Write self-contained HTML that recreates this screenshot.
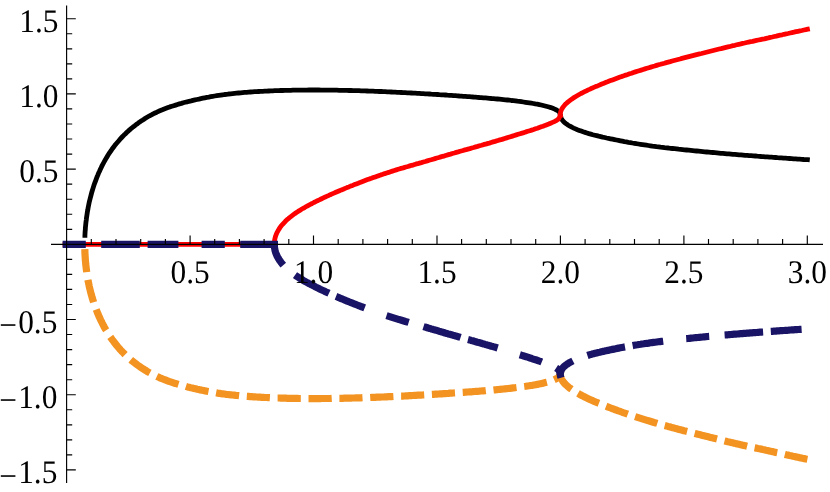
<!DOCTYPE html>
<html><head><meta charset="utf-8"><title>plot</title>
<style>
html,body{margin:0;padding:0;background:#fff;}
svg{display:block;will-change:transform;}
text{font-family:"Liberation Serif",serif;font-size:33px;fill:#000;text-rendering:geometricPrecision;}
</style></head><body>
<svg width="830" height="492" viewBox="0 0 830 492">
<rect width="830" height="492" fill="#fff"/>
<path d="M84.9 237.8 L84.9 235.8 L85.0 233.8 L85.1 231.8 L85.3 229.8 L85.4 227.8 L85.6 225.8 L85.8 223.8 L86.0 221.8 L86.3 219.8 L86.5 217.8 L86.8 215.8 L87.1 213.8 L87.4 211.8 L87.8 209.8 L88.1 207.9 L88.5 205.9 L88.9 203.9 L89.3 201.9 L89.8 200.0 L90.3 198.0 L90.8 196.1 L91.3 194.1 L91.8 192.2 L92.4 190.3 L93.0 188.4 L93.6 186.4 L94.2 184.5 L94.9 182.6 L95.6 180.8 L96.3 178.9 L97.0 177.0 L97.8 175.1 L98.5 173.3 L99.4 171.5 L100.2 169.6 L101.1 167.8 L101.9 166.0 L102.9 164.2 L103.8 162.5 L104.8 160.7 L105.8 158.9 L106.8 157.2 L107.8 155.5 L108.9 153.8 L110.0 152.1 L111.2 150.5 L112.3 148.8 L113.5 147.2 L114.7 145.6 L116.0 144.0 L117.3 142.5 L118.6 141.0 L119.9 139.4 L121.2 138.0 L122.6 136.5 L124.0 135.1 L125.5 133.7 L126.9 132.3 L128.4 130.9 L129.9 129.6 L131.4 128.3 L133.0 127.0 L134.6 125.8 L136.2 124.5 L137.8 123.4 L139.4 122.2 L141.1 121.1 L142.8 120.0 L144.4 118.9 L146.2 117.8 L147.9 116.8 L149.6 115.8 L151.4 114.9 L153.2 113.9 L155.0 113.0 L156.8 112.2 L158.6 111.3 L160.5 110.5 L162.3 109.8 L164.2 109.0 L166.1 108.3 L168.0 107.6 L169.8 106.9 L171.8 106.3 L173.7 105.7 L175.6 105.1 L177.5 104.5 L179.4 103.9 L181.4 103.4 L183.3 102.8 L185.2 102.3 L187.2 101.8 L189.1 101.3 L191.1 100.9 L193.0 100.4 L195.0 99.9 L197.0 99.5 L198.9 99.1 L200.9 98.6 L202.9 98.2 L204.8 97.8 L206.8 97.4 L208.8 97.1 L210.7 96.7 L212.7 96.3 L214.7 96.0 L216.7 95.7 L218.7 95.4 L220.7 95.1 L222.6 94.8 L224.6 94.5 L226.6 94.3 L228.6 94.0 L230.6 93.8 L232.6 93.6 L234.6 93.4 L236.6 93.2 L238.6 93.0 L240.6 92.8 L242.6 92.6 L244.6 92.4 L246.6 92.3 L248.6 92.1 L250.6 92.0 L252.6 91.9 L254.6 91.7 L256.6 91.6 L258.7 91.5 L260.7 91.4 L262.7 91.3 L264.7 91.2 L266.7 91.1 L268.7 91.0 L270.7 90.9 L272.7 90.8 L274.7 90.7 L276.7 90.6 L278.7 90.6 L280.7 90.5 L282.7 90.5 L284.7 90.4 L286.8 90.4 L288.8 90.3 L290.8 90.3 L292.8 90.2 L294.8 90.2 L296.8 90.2 L298.8 90.1 L300.8 90.1 L302.8 90.1 L304.8 90.1 L306.8 90.1 L308.9 90.0 L310.9 90.0 L312.9 90.0 L314.9 90.0 L316.9 90.0 L318.9 90.0 L320.9 90.1 L322.9 90.1 L324.9 90.1 L326.9 90.1 L329.0 90.1 L331.0 90.1 L333.0 90.2 L335.0 90.2 L337.0 90.2 L339.0 90.3 L341.0 90.3 L343.0 90.3 L345.0 90.4 L347.0 90.4 L349.0 90.5 L351.0 90.5 L353.1 90.6 L355.1 90.6 L357.1 90.7 L359.1 90.7 L361.1 90.8 L363.1 90.9 L365.1 90.9 L367.1 91.0 L369.1 91.1 L371.1 91.1 L373.1 91.2 L375.1 91.3 L377.2 91.4 L379.2 91.5 L381.2 91.5 L383.2 91.6 L385.2 91.7 L387.2 91.8 L389.2 91.9 L391.2 92.0 L393.2 92.1 L395.2 92.2 L397.2 92.3 L399.2 92.4 L401.2 92.5 L403.2 92.6 L405.3 92.7 L407.3 92.8 L409.3 92.9 L411.3 93.0 L413.3 93.1 L415.3 93.2 L417.3 93.3 L419.3 93.4 L421.3 93.6 L423.3 93.7 L425.3 93.8 L427.3 93.9 L429.3 94.0 L431.3 94.2 L433.3 94.3 L435.3 94.4 L437.3 94.5 L439.4 94.7 L441.4 94.8 L443.4 94.9 L445.4 95.0 L447.4 95.2 L449.4 95.3 L451.4 95.4 L453.4 95.6 L455.4 95.7 L457.4 95.8 L459.4 96.0 L461.4 96.1 L463.4 96.3 L465.4 96.4 L467.4 96.6 L469.4 96.7 L471.4 96.8 L473.4 97.0 L475.4 97.1 L477.4 97.3 L479.4 97.5 L481.4 97.6 L483.4 97.8 L485.5 97.9 L487.5 98.1 L489.5 98.3 L491.5 98.5 L493.5 98.6 L495.5 98.8 L497.5 99.0 L499.5 99.2 L501.5 99.4 L503.5 99.6 L505.5 99.8 L507.5 100.0 L509.5 100.2 L511.4 100.5 L513.4 100.7 L515.4 100.9 L517.4 101.2 L519.4 101.4 L521.4 101.7 L523.4 102.0 L525.4 102.3 L527.4 102.6 L529.4 102.9 L531.4 103.2 L533.3 103.5 L535.3 103.9 L537.3 104.2 L539.3 104.6 L541.2 105.0 L543.2 105.5 L545.1 106.0 L547.1 106.5 L549.0 107.0 L550.9 107.6 L552.8 108.3 L554.7 109.1 L556.5 110.0 L558.2 111.0 L559.6 112.4 L560.3 114.3" fill="none" stroke="#000" stroke-width="4.8" stroke-linejoin="round"/>
<path d="M560.3 114.3 L560.5 116.3 L561.2 118.2 L562.2 119.9 L563.5 121.5 L565.0 122.9 L566.6 124.1 L568.3 125.2 L570.0 126.2 L571.8 127.2 L573.7 128.1 L575.5 128.9 L577.4 129.7 L579.3 130.4 L581.2 131.1 L583.1 131.8 L585.0 132.4 L586.9 133.0 L588.9 133.6 L590.8 134.1 L592.8 134.7 L594.7 135.2 L596.7 135.7 L598.7 136.2 L600.6 136.6 L602.6 137.1 L604.6 137.5 L606.6 138.0 L608.5 138.4 L610.5 138.8 L612.5 139.2 L614.5 139.6 L616.5 140.0 L618.5 140.4 L620.5 140.8 L622.4 141.2 L624.4 141.6 L626.4 141.9 L628.4 142.3 L630.4 142.6 L632.4 143.0 L634.4 143.3 L636.4 143.7 L638.4 144.0 L640.4 144.3 L642.4 144.6 L644.4 144.9 L646.4 145.2 L648.4 145.5 L650.4 145.8 L652.4 146.1 L654.4 146.3 L656.5 146.6 L658.5 146.8 L660.5 147.1 L662.5 147.3 L664.5 147.6 L666.5 147.8 L668.5 148.0 L670.5 148.3 L672.5 148.5 L674.6 148.7 L676.6 148.9 L678.6 149.2 L680.6 149.4 L682.6 149.6 L684.6 149.8 L686.6 150.0 L688.7 150.2 L690.7 150.4 L692.7 150.6 L694.7 150.8 L696.7 151.0 L698.7 151.2 L700.7 151.4 L702.8 151.6 L704.8 151.8 L706.8 152.0 L708.8 152.2 L710.8 152.4 L712.8 152.5 L714.9 152.7 L716.9 152.9 L718.9 153.1 L720.9 153.3 L722.9 153.4 L725.0 153.6 L727.0 153.8 L729.0 153.9 L731.0 154.1 L733.0 154.3 L735.0 154.4 L737.1 154.6 L739.1 154.8 L741.1 154.9 L743.1 155.1 L745.1 155.3 L747.2 155.4 L749.2 155.6 L751.2 155.7 L753.2 155.9 L755.2 156.0 L757.3 156.2 L759.3 156.3 L761.3 156.5 L763.3 156.6 L765.3 156.8 L767.4 156.9 L769.4 157.1 L771.4 157.2 L773.4 157.4 L775.4 157.5 L777.5 157.7 L779.5 157.8 L781.5 157.9 L783.5 158.1 L785.5 158.2 L787.6 158.4 L789.6 158.5 L791.6 158.6 L793.6 158.8 L795.7 158.9 L797.7 159.1 L799.7 159.2 L801.7 159.3 L803.7 159.5 L805.8 159.6 L807.8 159.7 L809.8 159.9" fill="none" stroke="#000" stroke-width="4.8" stroke-linejoin="round"/>
<path d="M62.65 244.3 L274.3 244.3" fill="none" stroke="#ff0000" stroke-width="4.8"/>
<path d="M274.3 244.3 L274.4 242.3 L274.6 240.3 L275.0 238.3 L275.5 236.4 L276.2 234.5 L277.0 232.6 L278.0 230.8 L279.0 229.1 L280.1 227.4 L281.3 225.8 L282.6 224.3 L284.0 222.8 L285.4 221.3 L286.8 219.9 L288.4 218.6 L289.9 217.3 L291.5 216.1 L293.1 214.9 L294.7 213.7 L296.4 212.5 L298.1 211.4 L299.8 210.4 L301.5 209.3 L303.2 208.3 L305.0 207.3 L306.7 206.3 L308.5 205.3 L310.3 204.4 L312.1 203.5 L313.9 202.5 L315.7 201.6 L317.5 200.7 L319.3 199.9 L321.1 199.0 L322.9 198.1 L324.8 197.2 L326.6 196.4 L328.4 195.6 L330.3 194.7 L332.1 193.9 L334.0 193.1 L335.8 192.3 L337.7 191.5 L339.5 190.7 L341.4 189.9 L343.2 189.2 L345.1 188.4 L347.0 187.6 L348.8 186.9 L350.7 186.1 L352.6 185.4 L354.4 184.6 L356.3 183.9 L358.2 183.2 L360.1 182.4 L362.0 181.7 L363.9 181.0 L365.7 180.3 L367.6 179.6 L369.5 178.9 L371.4 178.3 L373.3 177.6 L375.2 176.9 L377.1 176.2 L379.0 175.6 L380.9 174.9 L382.9 174.3 L384.8 173.6 L386.7 173.0 L388.6 172.4 L390.5 171.7 L392.4 171.1 L394.4 170.5 L396.3 169.9 L398.2 169.3 L400.1 168.7 L402.1 168.2 L404.0 167.6 L405.9 167.0 L407.9 166.5 L409.8 165.9 L411.7 165.3 L413.7 164.8 L415.6 164.2 L417.6 163.7 L419.5 163.1 L421.4 162.6 L423.4 162.0 L425.3 161.5 L427.3 160.9 L429.2 160.3 L431.1 159.8 L433.1 159.2 L435.0 158.6 L436.9 158.0 L438.9 157.5 L440.8 156.9 L442.7 156.3 L444.7 155.8 L446.6 155.2 L448.5 154.6 L450.5 154.1 L452.4 153.5 L454.3 153.0 L456.3 152.4 L458.2 151.9 L460.2 151.3 L462.1 150.8 L464.0 150.2 L466.0 149.7 L467.9 149.1 L469.9 148.6 L471.8 148.0 L473.7 147.5 L475.7 146.9 L477.6 146.4 L479.6 145.8 L481.5 145.3 L483.4 144.7 L485.4 144.2 L487.3 143.6 L489.3 143.1 L491.2 142.5 L493.1 141.9 L495.1 141.4 L497.0 140.8 L498.9 140.2 L500.9 139.7 L502.8 139.1 L504.7 138.5 L506.7 137.9 L508.6 137.3 L510.5 136.7 L512.4 136.1 L514.4 135.5 L516.3 134.9 L518.2 134.3 L520.1 133.7 L522.1 133.1 L524.0 132.6 L525.9 131.9 L527.8 131.3 L529.8 130.7 L531.7 130.1 L533.6 129.5 L535.5 128.8 L537.4 128.2 L539.3 127.5 L541.2 126.8 L543.1 126.2 L545.0 125.4 L546.9 124.7 L548.7 124.0 L550.6 123.2 L552.5 122.4 L554.3 121.6 L556.1 120.7 L557.8 119.6 L559.1 118.1 L559.9 116.3 L560.3 114.3" fill="none" stroke="#ff0000" stroke-width="4.8" stroke-linejoin="round"/>
<path d="M561.0 117.9 L560.4 116.0 L560.3 114.1 L560.6 112.1 L561.2 110.2 L562.2 108.4 L563.3 106.7 L564.6 105.2 L566.0 103.7 L567.5 102.4 L569.1 101.1 L570.7 99.9 L572.4 98.7 L574.0 97.6 L575.8 96.5 L577.5 95.5 L579.2 94.5 L581.0 93.5 L582.8 92.6 L584.6 91.7 L586.4 90.8 L588.2 89.9 L590.1 89.1 L591.9 88.2 L593.8 87.4 L595.6 86.6 L597.5 85.9 L599.4 85.1 L601.2 84.3 L603.1 83.6 L605.0 82.8 L606.8 82.1 L608.7 81.3 L610.6 80.6 L612.5 79.9 L614.4 79.2 L616.3 78.5 L618.2 77.8 L620.1 77.1 L622.0 76.4 L623.9 75.8 L625.8 75.1 L627.7 74.5 L629.6 73.8 L631.6 73.2 L633.5 72.5 L635.4 71.9 L637.3 71.3 L639.2 70.7 L641.2 70.1 L643.1 69.5 L645.0 68.9 L646.9 68.3 L648.9 67.7 L650.8 67.1 L652.8 66.5 L654.7 66.0 L656.6 65.4 L658.6 64.8 L660.5 64.3 L662.5 63.7 L664.4 63.2 L666.3 62.6 L668.3 62.1 L670.2 61.6 L672.2 61.0 L674.1 60.5 L676.1 60.0 L678.0 59.5 L680.0 59.0 L681.9 58.4 L683.9 57.9 L685.8 57.4 L687.8 56.9 L689.8 56.4 L691.7 55.9 L693.7 55.4 L695.6 54.9 L697.6 54.4 L699.6 53.9 L701.5 53.5 L703.5 53.0 L705.4 52.5 L707.4 52.0 L709.3 51.5 L711.3 51.0 L713.3 50.5 L715.2 50.0 L717.2 49.5 L719.1 49.0 L721.1 48.6 L723.1 48.1 L725.0 47.6 L727.0 47.1 L729.0 46.7 L730.9 46.2 L732.9 45.7 L734.9 45.3 L736.8 44.8 L738.8 44.3 L740.8 43.9 L742.7 43.4 L744.7 43.0 L746.7 42.5 L748.6 42.1 L750.6 41.7 L752.6 41.3 L754.6 40.8 L756.5 40.4 L758.5 40.0 L760.5 39.6 L762.5 39.2 L764.4 38.8 L766.4 38.3 L768.4 37.9 L770.4 37.4 L772.3 37.0 L774.3 36.5 L776.3 36.1 L778.2 35.6 L780.2 35.2 L782.2 34.8 L784.1 34.3 L786.1 33.9 L788.1 33.5 L790.1 33.0 L792.0 32.6 L794.0 32.2 L796.0 31.7 L798.0 31.3 L799.9 30.9 L801.9 30.5 L803.9 30.0 L805.9 29.6 L807.8 29.2 L809.8 28.8" fill="none" stroke="#ff0000" stroke-width="4.8" stroke-linejoin="round"/>
<path d="M84.8 249.1 L84.9 250.7 L84.9 252.4 L85.0 254.0 L85.1 255.7 L85.2 257.3 L85.3 259.0 L85.4 260.6 L85.6 262.3 L85.7 263.9 L85.9 265.6 L86.1 267.2 L86.3 268.9 L86.5 270.5 L86.7 272.1 M87.9 279.8 L88.2 281.4 L88.6 283.0 L88.9 284.6 L89.2 286.2 L89.6 287.9 L90.0 289.5 L90.4 291.1 L90.8 292.7 L91.2 294.3 L91.7 295.9 L92.1 297.5 L92.6 299.0 L93.1 300.6 L93.6 302.2 M96.2 309.5 L96.8 311.0 L97.4 312.6 L98.0 314.1 L98.7 315.6 L99.3 317.1 L100.0 318.6 L100.7 320.1 L101.5 321.6 L102.2 323.1 L103.0 324.6 L103.7 326.0 L104.5 327.5 L105.3 328.9 L106.2 330.3 M110.3 336.9 L111.2 338.2 L112.2 339.6 L113.2 340.9 L114.2 342.2 L115.2 343.5 L116.2 344.8 L117.3 346.1 L118.3 347.4 L119.4 348.6 L120.5 349.9 L121.6 351.1 L122.8 352.3 L123.9 353.4 L125.1 354.6 M130.8 359.8 L132.1 360.9 L133.4 361.9 L134.7 362.9 L136.0 363.9 L137.3 364.9 L138.7 365.9 L140.0 366.8 L141.4 367.8 L142.8 368.7 L144.2 369.5 L145.6 370.4 L147.0 371.3 L148.4 372.1 L149.9 372.9 M156.8 376.4 L158.3 377.1 L159.8 377.8 L161.3 378.4 L162.8 379.0 L164.4 379.6 L165.9 380.2 L167.5 380.8 L169.0 381.4 L170.6 381.9 L172.1 382.4 L173.7 383.0 L175.3 383.4 L176.9 383.9 L178.5 384.4 M185.9 386.4 L187.5 386.9 L189.1 387.3 L190.7 387.7 L192.3 388.0 L193.9 388.4 L195.6 388.8 L197.2 389.2 L198.8 389.5 L200.4 389.9 L202.0 390.2 L203.6 390.5 L205.3 390.9 L206.9 391.2 L208.5 391.5 M216.1 392.8 L217.7 393.1 L219.4 393.3 L221.0 393.6 L222.7 393.8 L224.3 394.0 L225.9 394.3 L227.6 394.5 L229.2 394.7 L230.9 394.8 L232.5 395.0 L234.2 395.2 L235.8 395.4 L237.4 395.5 L239.1 395.7 M246.8 396.3 L248.4 396.4 L250.1 396.6 L251.7 396.7 L253.4 396.8 L255.0 396.9 L256.7 397.0 L258.3 397.1 L260.0 397.2 L261.6 397.3 L263.3 397.4 L264.9 397.5 L266.6 397.5 L268.3 397.6 L269.9 397.7 M277.6 398.0 L279.3 398.0 L280.9 398.1 L282.6 398.1 L284.2 398.2 L285.9 398.2 L287.5 398.3 L289.2 398.3 L290.8 398.3 L292.5 398.4 L294.2 398.4 L295.8 398.4 L297.5 398.4 L299.1 398.5 L300.8 398.5 M308.5 398.6 L310.1 398.6 L311.8 398.6 L313.5 398.6 L315.1 398.6 L316.8 398.6 L318.4 398.6 L320.1 398.6 L321.7 398.5 L323.4 398.5 L325.0 398.5 L326.7 398.5 L328.3 398.5 L330.0 398.5 L331.7 398.4 M339.4 398.3 L341.0 398.3 L342.7 398.3 L344.3 398.2 L346.0 398.2 L347.6 398.2 L349.3 398.1 L350.9 398.1 L352.6 398.0 L354.3 398.0 L355.9 397.9 L357.6 397.9 L359.2 397.8 L360.9 397.8 L362.5 397.7 M370.2 397.5 L371.9 397.4 L373.5 397.4 L375.2 397.3 L376.8 397.2 L378.5 397.2 L380.2 397.1 L381.8 397.0 L383.5 397.0 L385.1 396.9 L386.8 396.8 L388.4 396.7 L390.1 396.7 L391.7 396.6 L393.4 396.5 M401.1 396.1 L402.7 396.1 L404.4 396.0 L406.0 395.9 L407.7 395.8 L409.3 395.7 L411.0 395.6 L412.7 395.5 L414.3 395.4 L416.0 395.3 L417.6 395.2 L419.3 395.2 L420.9 395.1 L422.6 395.0 L424.2 394.9 M431.9 394.4 L433.6 394.3 L435.2 394.2 L436.9 394.1 L438.5 394.0 L440.2 393.9 L441.8 393.8 L443.5 393.7 L445.1 393.6 L446.8 393.5 L448.4 393.4 L450.1 393.2 L451.7 393.1 L453.4 393.0 L455.0 392.9 M462.7 392.4 L464.4 392.3 L466.0 392.1 L467.7 392.0 L469.3 391.9 L471.0 391.8 L472.6 391.7 L474.3 391.5 L475.9 391.4 L477.6 391.3 L479.2 391.2 L480.9 391.0 L482.5 390.9 L484.2 390.8 L485.8 390.6 M493.5 390.0 L495.2 389.8 L496.8 389.7 L498.5 389.5 L500.1 389.3 L501.8 389.2 L503.4 389.0 L505.0 388.8 L506.7 388.7 L508.3 388.5 L510.0 388.3 L511.6 388.1 L513.3 387.9 L514.9 387.7 L516.5 387.5 M524.2 386.5 L525.8 386.3 L527.5 386.0 L529.1 385.8 L530.7 385.5 L532.4 385.3 L534.0 385.0 L535.6 384.7 L537.3 384.4 L538.9 384.0 L540.5 383.7 L542.1 383.4 L543.7 383.0 L545.3 382.6 L546.9 382.2 M554.2 379.7 L556.2 378.8 L558.0 377.7 L559.5 376.3 L560.3 374.3" fill="none" stroke="#f39322" stroke-width="7.2" stroke-linejoin="round"/>
<path d="M561.0 370.7 L560.5 372.3 L560.3 373.9 L560.4 375.5 L560.7 377.1 L561.3 378.6 L562.1 380.1 L563.0 381.5 L564.0 382.8 L565.1 384.0 L566.3 385.1 L567.5 386.2 L568.8 387.3 L570.1 388.3 L571.5 389.3 M578.0 393.4 L579.4 394.2 L580.9 395.0 L582.3 395.8 L583.8 396.5 L585.3 397.3 L586.8 398.0 L588.3 398.7 L589.8 399.4 L591.3 400.1 L592.8 400.7 L594.3 401.4 L595.8 402.1 L597.4 402.7 L598.9 403.3 M606.1 406.2 L607.6 406.8 L609.1 407.4 L610.7 408.0 L612.2 408.6 L613.8 409.2 L615.3 409.8 L616.9 410.3 L618.4 410.9 L620.0 411.4 L621.6 412.0 L623.1 412.6 L624.7 413.1 L626.2 413.6 L627.8 414.2 M635.1 416.6 L636.7 417.1 L638.3 417.6 L639.9 418.1 L641.4 418.6 L643.0 419.1 L644.6 419.6 L646.2 420.1 L647.8 420.6 L649.3 421.0 L650.9 421.5 L652.5 422.0 L654.1 422.5 L655.7 422.9 L657.3 423.4 M664.7 425.5 L666.3 425.9 L667.9 426.4 L669.5 426.8 L671.1 427.3 L672.7 427.7 L674.3 428.1 L675.9 428.6 L677.5 429.0 L679.1 429.4 L680.7 429.8 L682.3 430.2 L683.9 430.7 L685.5 431.1 L687.1 431.5 M694.6 433.4 L696.2 433.8 L697.8 434.2 L699.4 434.6 L701.0 435.0 L702.6 435.4 L704.2 435.8 L705.8 436.2 L707.4 436.6 L709.0 437.0 L710.6 437.4 L712.2 437.8 L713.8 438.2 L715.4 438.6 L717.0 439.0 M724.5 440.9 L726.1 441.3 L727.7 441.7 L729.3 442.0 L731.0 442.4 L732.6 442.8 L734.2 443.2 L735.8 443.6 L737.4 443.9 L739.0 444.3 L740.6 444.7 L742.2 445.1 L743.8 445.4 L745.5 445.8 L747.1 446.2 M754.6 447.8 L756.2 448.1 L757.9 448.5 L759.5 448.8 L761.1 449.1 L762.7 449.5 L764.3 449.8 L765.9 450.2 L767.6 450.5 L769.2 450.9 L770.8 451.3 L772.4 451.6 L774.0 452.0 L775.6 452.4 L777.2 452.7 M784.8 454.4 L786.4 454.8 L788.0 455.1 L789.6 455.5 L791.2 455.8 L792.9 456.2 L794.5 456.5 L796.1 456.9 L797.7 457.2 L799.3 457.6 L800.9 457.9 L802.6 458.3 L804.2 458.6 L805.8 459.0 L807.4 459.3" fill="none" stroke="#f39322" stroke-width="7.2" stroke-linejoin="round"/>
<path d="M62.6 244.3 L64.3 244.3 L66.0 244.3 L67.6 244.3 L69.3 244.3 L70.9 244.3 L72.6 244.3 L74.2 244.3 L75.9 244.3 L77.5 244.3 L79.2 244.3 L80.8 244.3 L82.5 244.3 L84.2 244.3 L85.8 244.3 M101.2 244.3 L102.9 244.3 L104.5 244.3 L106.1 244.3 L107.7 244.3 L109.3 244.3 L110.9 244.3 L112.5 244.3 L114.1 244.3 L115.7 244.3 L117.3 244.3 L118.9 244.3 L120.5 244.3 L122.2 244.3 L123.8 244.3 L125.4 244.3 L127.0 244.3 L128.6 244.3 L130.2 244.3 L131.8 244.3 L133.4 244.3 L135.0 244.3 L136.6 244.3 L138.2 244.3 L139.8 244.3 M147.6 244.3 L149.2 244.3 L150.8 244.3 L152.4 244.3 L154.1 244.3 L155.7 244.3 L157.3 244.3 L158.9 244.3 L160.6 244.3 L162.2 244.3 L163.8 244.3 L165.4 244.3 L167.1 244.3 L168.7 244.3 L170.3 244.3 L171.9 244.3 L173.6 244.3 L175.2 244.3 L176.8 244.3 L178.4 244.3 M201.6 244.3 L203.3 244.3 L204.9 244.3 L206.6 244.3 L208.2 244.3 L209.9 244.3 L211.5 244.3 L213.2 244.3 L214.8 244.3 L216.5 244.3 L218.2 244.3 L219.8 244.3 L221.5 244.3 L223.1 244.3 L224.8 244.3 M240.2 244.3 L241.8 244.3 L243.4 244.3 L244.9 244.3 L246.5 244.3 L248.1 244.3 L249.7 244.3 L251.2 244.3 L252.8 244.3 L254.4 244.3 L256.0 244.3 L257.5 244.3 L259.1 244.3 L260.7 244.3 L262.3 244.3 L263.8 244.3 L265.4 244.3 L267.0 244.3 L268.6 244.3 L270.1 244.3 L271.7 244.3 L273.3 244.3 L274.9 244.3 L276.4 244.3 L278.0 244.3" fill="none" stroke="#1a1466" stroke-width="7.2" stroke-linejoin="round"/>
<path d="M274.3 244.3 L274.3 246.0 L274.5 247.6 L274.8 249.2 L275.1 250.8 L275.6 252.4 L276.2 254.0 L276.8 255.5 L277.6 257.0 L278.4 258.4 L279.2 259.8 L280.2 261.2 L281.1 262.5 L282.2 263.8 L283.3 265.1 M295.0 275.1 L296.3 276.0 L297.6 276.9 L299.0 277.7 L300.4 278.6 L301.7 279.4 L303.1 280.3 L304.5 281.1 L305.9 281.9 L307.3 282.6 L308.7 283.4 L310.2 284.1 L311.6 284.9 L313.0 285.6 L314.5 286.3 L315.9 287.1 L317.3 287.8 L318.8 288.5 L320.2 289.2 L321.7 289.9 L323.1 290.6 L324.6 291.3 L326.0 292.0 L327.5 292.6 L329.0 293.3 M336.0 296.4 L337.5 297.0 L339.0 297.7 L340.5 298.3 L342.0 298.9 L343.5 299.5 L345.0 300.2 L346.5 300.8 L348.0 301.4 L349.5 302.0 L351.0 302.6 L352.5 303.2 L354.1 303.8 L355.6 304.4 L357.1 305.0 L358.6 305.6 L360.1 306.2 L361.6 306.8 L363.2 307.3 L364.7 307.9 M386.5 315.6 L388.1 316.1 L389.7 316.6 L391.2 317.1 L392.8 317.6 L394.4 318.1 L396.0 318.6 L397.6 319.1 L399.1 319.6 L400.7 320.0 L402.3 320.5 L403.9 321.0 L405.5 321.5 L407.1 321.9 L408.7 322.4 M423.5 326.6 L425.1 327.1 L426.6 327.5 L428.1 328.0 L429.7 328.4 L431.2 328.9 L432.8 329.3 L434.3 329.8 L435.9 330.2 L437.4 330.7 L438.9 331.2 L440.5 331.6 L442.0 332.1 L443.6 332.5 L445.1 333.0 L446.7 333.4 L448.2 333.9 L449.8 334.3 L451.3 334.7 L452.8 335.2 L454.4 335.6 L455.9 336.1 L457.5 336.5 L459.0 336.9 L460.6 337.4 M468.0 339.5 L469.6 339.9 L471.1 340.4 L472.7 340.8 L474.3 341.3 L475.8 341.7 L477.4 342.2 L478.9 342.6 L480.5 343.0 L482.1 343.5 L483.6 343.9 L485.2 344.4 L486.8 344.8 L488.3 345.3 L489.9 345.7 L491.5 346.2 L493.0 346.6 L494.6 347.1 L496.1 347.5 L497.7 348.0 M519.8 354.8 L521.4 355.3 L523.0 355.7 L524.6 356.2 L526.2 356.7 L527.7 357.2 L529.3 357.7 L530.9 358.2 L532.5 358.8 L534.0 359.3 L535.6 359.8 L537.2 360.3 L538.7 360.9 L540.3 361.4 L541.8 362.0 M556.1 367.9 L557.8 369.0 L559.1 370.5 L559.9 372.3 L560.3 374.3" fill="none" stroke="#1a1466" stroke-width="7.2" stroke-linejoin="round"/>
<path d="M561.0 377.8 L560.5 376.2 L560.3 374.6 L560.4 373.1 L560.7 371.4 L561.4 369.9 L562.3 368.5 L563.3 367.3 L564.5 366.1 L565.8 365.1 L567.2 364.1 L568.6 363.2 L570.0 362.4 L571.5 361.6 L572.9 360.9 M587.4 355.5 L588.9 355.0 L590.5 354.6 L592.0 354.1 L593.6 353.7 L595.1 353.3 L596.7 352.9 L598.2 352.5 L599.8 352.2 L601.4 351.8 L602.9 351.4 L604.5 351.1 L606.1 350.7 L607.7 350.4 L609.2 350.1 L610.8 349.7 L612.4 349.4 L614.0 349.1 L615.5 348.8 L617.1 348.4 L618.7 348.1 L620.3 347.8 L621.8 347.5 L623.4 347.2 L625.0 346.9 M632.6 345.6 L634.2 345.3 L635.8 345.0 L637.4 344.8 L639.0 344.5 L640.6 344.3 L642.2 344.0 L643.8 343.8 L645.4 343.5 L647.1 343.3 L648.7 343.1 L650.3 342.8 L651.9 342.6 L653.5 342.4 L655.1 342.2 L656.7 342.0 L658.3 341.8 L659.9 341.6 L661.6 341.4 L663.2 341.2 M686.2 338.6 L687.8 338.5 L689.5 338.3 L691.1 338.1 L692.8 338.0 L694.4 337.8 L696.1 337.6 L697.7 337.5 L699.4 337.3 L701.0 337.2 L702.6 337.0 L704.3 336.8 L705.9 336.7 L707.6 336.5 L709.2 336.4 M724.6 335.0 L726.2 334.9 L727.8 334.8 L729.4 334.6 L731.0 334.5 L732.6 334.3 L734.2 334.2 L735.8 334.1 L737.4 334.0 L739.0 333.8 L740.6 333.7 L742.3 333.6 L743.9 333.4 L745.5 333.3 L747.1 333.2 L748.7 333.1 L750.3 332.9 L751.9 332.8 L753.5 332.7 L755.1 332.6 L756.7 332.5 L758.3 332.3 L759.9 332.2 L761.5 332.1 L763.1 332.0 M770.8 331.4 L772.4 331.3 L774.0 331.2 L775.7 331.1 L777.3 330.9 L778.9 330.8 L780.5 330.7 L782.1 330.6 L783.8 330.5 L785.4 330.4 L787.0 330.3 L788.6 330.2 L790.3 330.0 L791.9 329.9 L793.5 329.8 L795.1 329.7 L796.7 329.6 L798.4 329.5 L800.0 329.4 L801.6 329.3" fill="none" stroke="#1a1466" stroke-width="7.2" stroke-linejoin="round"/>
<g stroke="#000" stroke-width="1.15" fill="none">
<path d="M51 244.3 H823"/>
<path d="M66.6 5.4 V483"/>
<path d="M91.3 244.3 v-5.3 M116.0 244.3 v-5.3 M140.7 244.3 v-5.3 M165.4 244.3 v-5.3 M190.1 244.3 v-8.8 M214.7 244.3 v-5.3 M239.4 244.3 v-5.3 M264.1 244.3 v-5.3 M288.8 244.3 v-5.3 M313.5 244.3 v-8.8 M338.2 244.3 v-5.3 M362.9 244.3 v-5.3 M387.6 244.3 v-5.3 M412.3 244.3 v-5.3 M437.0 244.3 v-8.8 M461.6 244.3 v-5.3 M486.3 244.3 v-5.3 M511.0 244.3 v-5.3 M535.7 244.3 v-5.3 M560.4 244.3 v-8.8 M585.1 244.3 v-5.3 M609.8 244.3 v-5.3 M634.5 244.3 v-5.3 M659.2 244.3 v-5.3 M683.9 244.3 v-8.8 M708.5 244.3 v-5.3 M733.2 244.3 v-5.3 M757.9 244.3 v-5.3 M782.6 244.3 v-5.3 M807.3 244.3 v-8.8 M66.6 469.9 h9.2 M66.6 454.9 h5.6 M66.6 439.8 h5.6 M66.6 424.8 h5.6 M66.6 409.7 h5.6 M66.6 394.7 h9.2 M66.6 379.7 h5.6 M66.6 364.6 h5.6 M66.6 349.6 h5.6 M66.6 334.5 h5.6 M66.6 319.5 h9.2 M66.6 304.5 h5.6 M66.6 289.4 h5.6 M66.6 274.4 h5.6 M66.6 259.3 h5.6 M66.6 229.3 h5.6 M66.6 214.2 h5.6 M66.6 199.2 h5.6 M66.6 184.1 h5.6 M66.6 169.1 h9.2 M66.6 154.1 h5.6 M66.6 139.0 h5.6 M66.6 124.0 h5.6 M66.6 108.9 h5.6 M66.6 93.9 h9.2 M66.6 78.9 h5.6 M66.6 63.8 h5.6 M66.6 48.8 h5.6 M66.6 33.7 h5.6 M66.6 18.7 h9.2"/>
</g>
<text transform="translate(190.1 283.4) scale(0.95 1)" text-anchor="middle">0.5</text>
<text transform="translate(313.5 283.4) scale(0.95 1)" text-anchor="middle">1.0</text>
<text transform="translate(437.0 283.4) scale(0.95 1)" text-anchor="middle">1.5</text>
<text transform="translate(560.4 283.4) scale(0.95 1)" text-anchor="middle">2.0</text>
<text transform="translate(683.9 283.4) scale(0.95 1)" text-anchor="middle">2.5</text>
<text transform="translate(807.3 283.4) scale(0.95 1)" text-anchor="middle">3.0</text>
<text transform="translate(58.5 32.0) scale(0.95 1)" text-anchor="end">1.5</text>
<text transform="translate(58.5 107.2) scale(0.95 1)" text-anchor="end">1.0</text>
<text transform="translate(58.5 182.4) scale(0.95 1)" text-anchor="end">0.5</text>
<text transform="translate(58.5 332.8) scale(0.95 1)" text-anchor="end"><tspan dy="3.3" dx="-1.2">−</tspan><tspan dy="-3.3" dx="1.2">0.5</tspan></text>
<text transform="translate(58.5 408.0) scale(0.95 1)" text-anchor="end"><tspan dy="3.3" dx="-1.2">−</tspan><tspan dy="-3.3" dx="1.2">1.0</tspan></text>
<text transform="translate(58.5 483.2) scale(0.95 1)" text-anchor="end"><tspan dy="3.3" dx="-1.2">−</tspan><tspan dy="-3.3" dx="1.2">1.5</tspan></text>
</svg></body></html>
